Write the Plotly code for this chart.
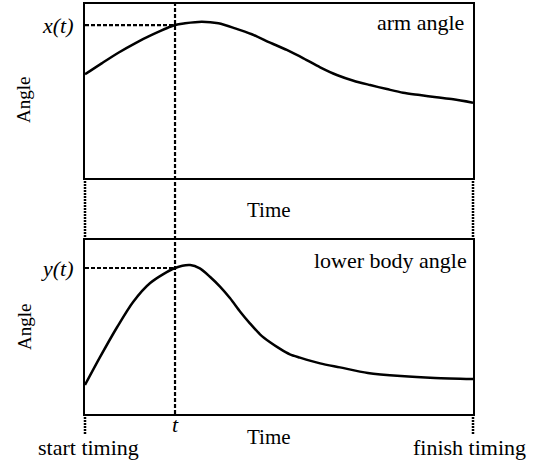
import plotly.graph_objects as go

# ---- data ----
time_arm = [0, 0.43, 0.86, 1.29, 1.72, 2.32, 2.58, 3.01, 3.44, 3.87, 4.30, 4.77, 5.20, 5.63, 6.06,
            6.49, 6.92, 7.35, 7.78, 8.20, 8.63, 9.06, 9.49, 10]
arm_angle = [59.6, 65.9, 72.0, 77.4, 82.2, 87.9, 88.9, 89.8, 88.9, 86.0, 82.6, 77.8, 73.6, 68.8, 63.6,
             59.2, 55.9, 53.4, 51.1, 49.0, 47.7, 46.4, 45.2, 43.3]

time_body = [0, 0.39, 0.83, 1.24, 1.68, 2.32, 2.71, 2.96, 3.22, 3.48, 3.74, 4.00, 4.25, 4.51, 4.77,
             5.03, 5.28, 5.54, 6.06, 6.57, 7.29, 8.14, 9.02, 10]
body_angle = [16.7, 32.8, 50.0, 64.4, 75.3, 83.9, 85.6, 83.7, 78.9, 73.2, 66.5, 58.8, 52.1, 45.8, 41.2,
              37.4, 34.3, 32.4, 29.1, 26.8, 23.6, 21.8, 20.7, 20.1]

t_mark = 2.32
x_t = 87.9
y_t = 83.9

W, H = 538, 464
def px(x):
    return x / W
def py(y):
    return 1 - y / H

FONT = "Liberation Serif, Times New Roman, serif"
X0, X1 = 85, 473
TOP = (4, 178)
BOT = (240, 414)

fig = go.Figure()
fig.add_trace(go.Scatter(x=time_arm, y=arm_angle, mode="lines",
                         line=dict(color="black", width=2.5, shape="spline", smoothing=0.8),
                         xaxis="x", yaxis="y", showlegend=False, hoverinfo="skip"))
fig.add_trace(go.Scatter(x=time_body, y=body_angle, mode="lines",
                         line=dict(color="black", width=2.5, shape="spline", smoothing=0.8),
                         xaxis="x2", yaxis="y2", showlegend=False, hoverinfo="skip"))

ax_common = dict(showline=True, linecolor="black", linewidth=2, mirror=True, showticklabels=False,
                 ticks="", showgrid=False, zeroline=False, fixedrange=True)
fig.update_layout(
    width=W, height=H, margin=dict(l=0, r=0, t=0, b=0),
    paper_bgcolor="white", plot_bgcolor="white",
    xaxis=dict(domain=[px(X0), px(X1)], range=[0, 10], anchor="y", **ax_common),
    yaxis=dict(domain=[py(TOP[1]), py(TOP[0])], range=[0, 100], anchor="x", **ax_common),
    xaxis2=dict(domain=[px(X0), px(X1)], range=[0, 10], anchor="y2", **ax_common),
    yaxis2=dict(domain=[py(BOT[1]), py(BOT[0])], range=[0, 100], anchor="x2", **ax_common),
)

DASH = "4px,2px"
# vertical dashed line at t spanning both panels
fig.add_shape(type="line", xref="x", yref="paper", x0=t_mark, x1=t_mark, y0=py(BOT[1]), y1=py(TOP[0]),
              line=dict(color="black", width=2.2, dash=DASH))
# horizontal dashed lines to x(t), y(t)
fig.add_shape(type="line", xref="x", yref="y", x0=0, x1=t_mark, y0=x_t, y1=x_t,
              line=dict(color="black", width=2.2, dash=DASH))
fig.add_shape(type="line", xref="x2", yref="y2", x0=0, x1=t_mark, y0=y_t, y1=y_t,
              line=dict(color="black", width=2.2, dash=DASH))
# dotted side lines in the middle band and below bottom panel
for xx in (X0, X1):
    fig.add_shape(type="line", xref="paper", yref="paper", x0=px(xx), x1=px(xx), y0=py(TOP[1]), y1=py(BOT[0]),
                  line=dict(color="black", width=2.5, dash="2px,1px"))
    fig.add_shape(type="line", xref="paper", yref="paper", x0=px(xx), x1=px(xx), y0=py(BOT[1]), y1=py(434),
                  line=dict(color="black", width=2.5, dash="2px,1px"))

def txt(s, x, y, size=22, xanchor="center", angle=0, italic=False):
    fig.add_annotation(text=s, xref="paper", yref="paper", x=px(x), y=py(y), xanchor=xanchor, yanchor="middle",
                       showarrow=False, textangle=angle,
                       font=dict(family=FONT, size=size, color="black", style="italic" if italic else "normal"))

txt("x(t)", 76, 25, xanchor="right", italic=True)
txt("y(t)", 76, 268, xanchor="right", italic=True)
txt("Angle", 24, 100, size=19, angle=-90)
txt("Angle", 24, 327, size=19, angle=-90)
txt("Time", 269, 210, size=21)
txt("Time", 269, 437, size=21)
txt("t", 175, 424, italic=True)
txt("start timing", 88, 447)
txt("finish timing", 469, 447)
txt("arm angle", 466, 23, xanchor="right")
txt("lower body angle", 469, 260, xanchor="right")

fig.write_html("out.html", config={"displayModeBar": False},
               post_script="document.body.style.margin='0px';")
